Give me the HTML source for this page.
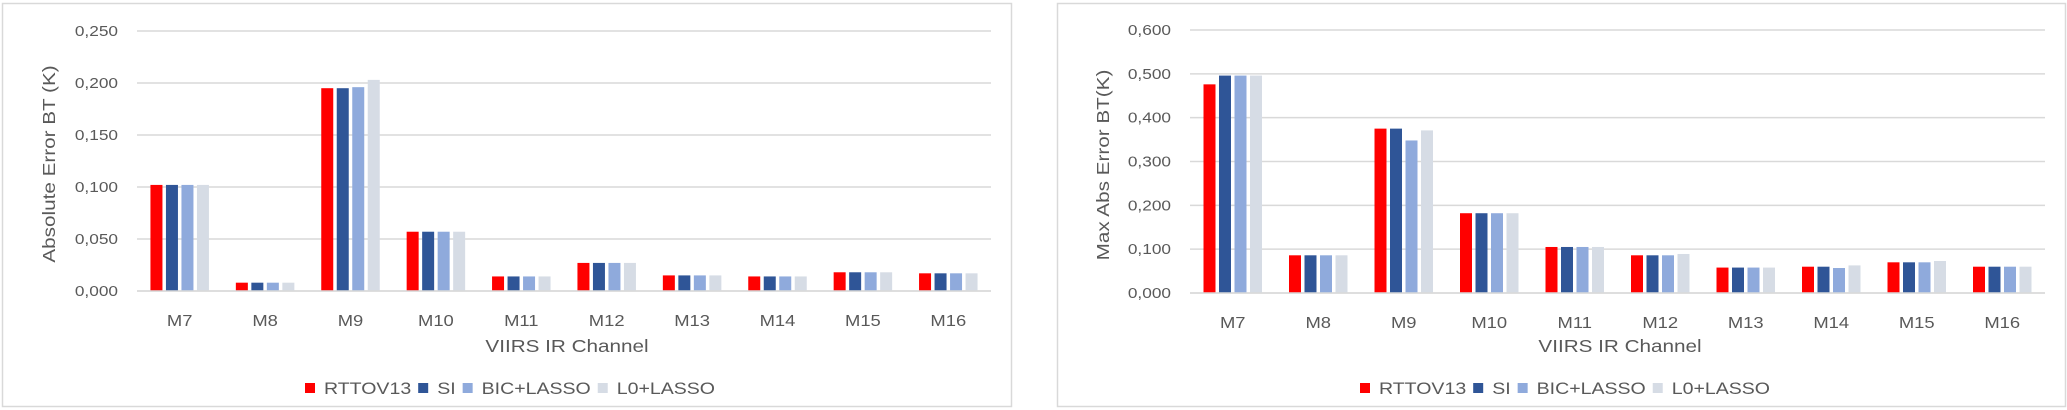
<!DOCTYPE html>
<html><head><meta charset="utf-8">
<style>
html,body{margin:0;padding:0;background:#fff;width:2067px;height:410px;overflow:hidden;font-family:"Liberation Sans",sans-serif;}
svg text{font-family:"Liberation Sans",sans-serif;fill:#595959;}
</style></head>
<body>
<svg id="chart" width="2067" height="410" xmlns="http://www.w3.org/2000/svg">
<rect x="2.5" y="3.5" width="1009" height="403" fill="#fff" stroke="#d9d9d9" stroke-width="1.5"/>
<rect x="1057.5" y="3.5" width="1008" height="403" fill="#fff" stroke="#d9d9d9" stroke-width="1.5"/>
</svg>
<script>
const categories = ["M7","M8","M9","M10","M11","M12","M13","M14","M15","M16"];
const seriesNames = ["RTTOV13","SI","BIC+LASSO","L0+LASSO"];
const seriesColors = ["#ff0000","#2f5597","#8faadc","#d6dce5"];
const absRttov = [0.102,0.008,0.195,0.057,0.014,0.027,0.015,0.014,0.018,0.017];
const absSI    = [0.102,0.008,0.195,0.057,0.014,0.027,0.015,0.014,0.018,0.017];
const absBic   = [0.102,0.008,0.196,0.057,0.014,0.027,0.015,0.014,0.018,0.017];
const absL0    = [0.102,0.008,0.203,0.057,0.014,0.027,0.015,0.014,0.018,0.017];
const absTicks = [0,0.05,0.1,0.15,0.2,0.25];
const absTickLabels = ["0,000","0,050","0,100","0,150","0,200","0,250"];
const maxRttov = [0.476,0.086,0.375,0.182,0.105,0.086,0.058,0.060,0.070,0.060];
const maxSI    = [0.496,0.086,0.375,0.182,0.105,0.086,0.058,0.060,0.070,0.060];
const maxBic   = [0.496,0.086,0.348,0.182,0.105,0.086,0.058,0.057,0.070,0.060];
const maxL0    = [0.496,0.086,0.371,0.182,0.105,0.089,0.058,0.063,0.073,0.060];
const maxTicks = [0,0.1,0.2,0.3,0.4,0.5,0.6];
const maxTickLabels = ["0,000","0,100","0,200","0,300","0,400","0,500","0,600"];

const svg = document.getElementById('chart');
const NS = "http://www.w3.org/2000/svg";
const SX = 1.15;
function mk(tag, attrs, parent){
  const e = document.createElementNS(NS, tag);
  for (const k in attrs) e.setAttribute(k, attrs[k]);
  (parent||svg).appendChild(e);
  return e;
}
function txt(parent, x, y, size, anchor, str, rot){
  const t = mk('text', {x: 0, y: 0, 'text-anchor': anchor, 'font-size': size,
    transform: 'translate(' + x + ',' + y + ')' + (rot ? ' rotate(-90)' : '') + ' scale(' + SX + ',1)'}, parent);
  t.textContent = str;
  return t;
}
function drawChart(cfg){
  const g = mk('g', {});
  
  
  const yMax = cfg.ticks[cfg.ticks.length-1];
  const y = v => cfg.bottom - (v / yMax) * (cfg.bottom - cfg.top);
  const step = (cfg.right - cfg.left) / categories.length;
  const x = i => cfg.left + step * (i + 0.5);
  cfg.ticks.forEach((t, i) => {
    const ln = mk('line', {x1: cfg.left, x2: cfg.right, y1: y(t), y2: y(t), stroke: '#d9d9d9', 'stroke-width': 1.5}, g);
    
    
    const tx = txt(g, cfg.left - 19, y(t) + 5, 15, 'end', cfg.tickLabels[i]);
    
    
  });
  const bw = 12, pitch = 15.5;
  cfg.series.forEach((vals, s) => {
    vals.forEach((v, i) => {
      const bx = x(i) - 2 * pitch + s * pitch + (pitch - bw) / 2;
      const r = mk('rect', {x: bx, y: y(v), width: bw, height: y(0) - y(v), fill: seriesColors[s]}, g);
      
      
    });
  });
  const base = mk('line', {x1: cfg.left, x2: cfg.right, y1: y(0), y2: y(0), stroke: '#d9d9d9', 'stroke-width': 1.5}, g);
  
  
  categories.forEach((c, i) => {
    const tx = txt(g, x(i), cfg.bottom + 35, 16, 'middle', c);
    
    
  });
  const xt = txt(g, cfg.xTitleX, 352, 18, 'middle', 'VIIRS IR Channel');
  
  
  const yt = txt(g, cfg.yTitleX, cfg.yTitleY, 18, 'middle', cfg.yTitle, true);
  
  
  const lg = mk('g', {}, g);
  
  
  let lx = cfg.legendX;
  seriesNames.forEach((n, s) => {
    const m = mk('rect', {x: lx, y: 383, width: 10, height: 10, fill: seriesColors[s]}, lg);
    
    
    const t = txt(lg, lx + 19, 394, 17, 'start', n);
    
    
    lx += 19 + t.getComputedTextLength() * SX + 7;
  });
}
drawChart({name: 'abs-error-chart', left: 137, right: 991, top: 31, bottom: 291,
  ticks: absTicks, tickLabels: absTickLabels, series: [absRttov, absSI, absBic, absL0],
  xTitleX: 567, yTitleX: 55, yTitleY: 164, yTitle: 'Absolute Error BT (K)', legendX: 305});
drawChart({name: 'max-abs-error-chart', left: 1190, right: 2045, top: 30, bottom: 293,
  ticks: maxTicks, tickLabels: maxTickLabels, series: [maxRttov, maxSI, maxBic, maxL0],
  xTitleX: 1620, yTitleX: 1109, yTitleY: 165, yTitle: 'Max Abs Error BT(K)', legendX: 1360});
</script>
</body></html>
